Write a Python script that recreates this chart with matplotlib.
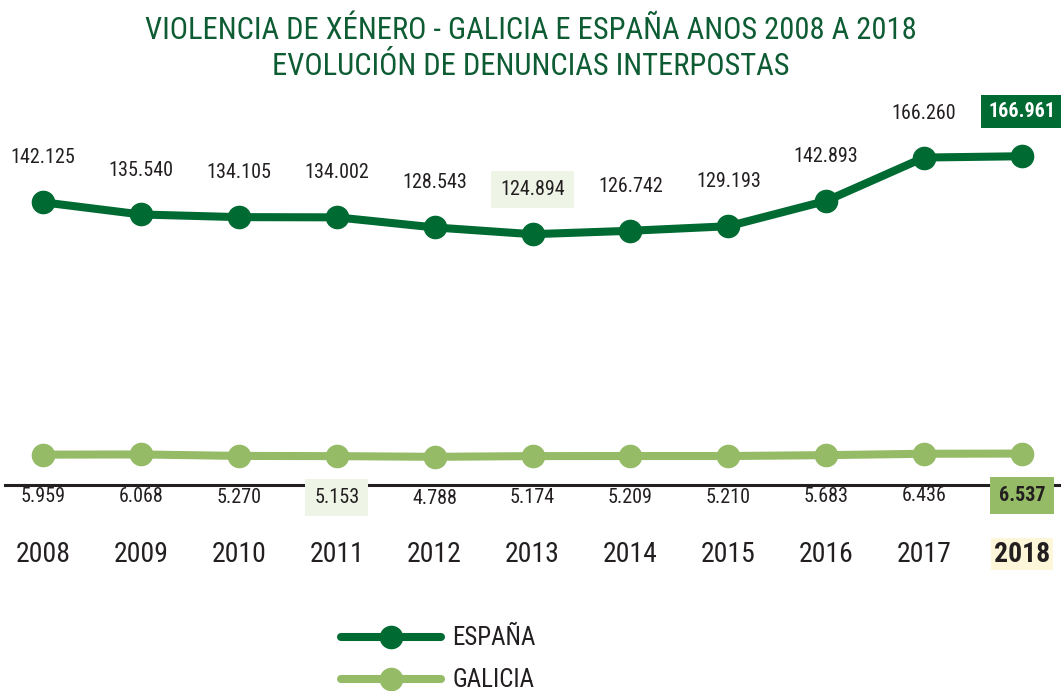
import matplotlib.pyplot as plt

plt.rcParams['font.family'] = ['Roboto Condensed', 'DejaVu Sans']

years = [2008, 2009, 2010, 2011, 2012, 2013, 2014, 2015, 2016, 2017, 2018]
espana = [142125, 135540, 134105, 134002, 128543, 124894, 126742, 129193, 142893, 166260, 166961]
galicia = [5959, 6068, 5270, 5153, 4788, 5174, 5209, 5210, 5683, 6436, 6537]
espana_labels = ['142.125', '135.540', '134.105', '134.002', '128.543', '124.894',
                 '126.742', '129.193', '142.893', '166.260', '166.961']
galicia_labels = ['5.959', '6.068', '5.270', '5.153', '4.788', '5.174',
                  '5.209', '5.210', '5.683', '6.436', '6.537']

dark_green = '#006a33'
light_green = '#95bb67'
title_green = '#0e5c33'
text_color = '#231f20'

fig = plt.figure(figsize=(10.61, 6.91), dpi=100)
ax = fig.add_axes([0.0047, 0.298, 0.9953, 0.557])

ax.plot(years, espana, color=dark_green, lw=5.8, marker='o', ms=16,
        solid_capstyle='round', label='ESPAÑA', zorder=3)
ax.plot(years, galicia, color=light_green, lw=5.8, marker='o', ms=16,
        solid_capstyle='round', label='GALICIA', zorder=3)

ax.set_xlim(2007.612, 2018.398)
ax.set_ylim(-10465, 197200)

# value labels
for i, (x, y) in enumerate(zip(years, espana)):
    kw = dict(ha='center', va='center', fontsize=14.5, color=text_color)
    if i == len(years) - 1:
        kw.update(color='white', fontweight='bold',
                  bbox=dict(boxstyle='square,pad=0.35', fc=dark_green, ec='none'))
    elif years[i] == 2013:
        kw.update(bbox=dict(boxstyle='square,pad=0.45', fc='#eef4e6', ec='none'))
    ax.annotate(espana_labels[i], (x, y), xytext=(0, 32),
                textcoords='offset points', **kw)

for i, (x, y) in enumerate(zip(years, galicia)):
    kw = dict(ha='center', va='center', fontsize=14.5, color=text_color)
    if i == len(years) - 1:
        kw.update(fontweight='bold',
                  bbox=dict(boxstyle='square,pad=0.45', fc=light_green, ec='none'))
    elif years[i] == 2011:
        kw.update(bbox=dict(boxstyle='square,pad=0.45', fc='#eef4e6', ec='none'))
    ax.annotate(galicia_labels[i], (x, y), xytext=(0, -30),
                textcoords='offset points', **kw)

# axes styling
for side in ['top', 'left', 'right']:
    ax.spines[side].set_visible(False)
ax.spines['bottom'].set_color(text_color)
ax.spines['bottom'].set_linewidth(2.2)
ax.set_yticks([])
ax.set_xticks(years)
ax.set_xticklabels([str(y) for y in years], fontsize=20, color=text_color)
ax.tick_params(axis='x', length=0, pad=40)
last = ax.get_xticklabels()[-1]
last.set_fontweight('bold')
last.set_bbox(dict(boxstyle='square,pad=0.1', fc='#fdf6d8', ec='none'))

fig.suptitle('VIOLENCIA DE XÉNERO - GALICIA E ESPAÑA ANOS 2008 A 2018\n'
             'EVOLUCIÓN DE DENUNCIAS INTERPOSTAS',
             x=0.5, y=0.977, va='top', fontsize=22, color=title_green,
             linespacing=1.3, fontweight='normal')

fig.legend(loc='upper left', bbox_to_anchor=(0.312, 0.108), frameon=False,
           fontsize=18, handlelength=4.0, labelspacing=0.72, handletextpad=0.45,
           labelcolor=text_color, borderaxespad=0)

fig.savefig('out.png', dpi=100)
